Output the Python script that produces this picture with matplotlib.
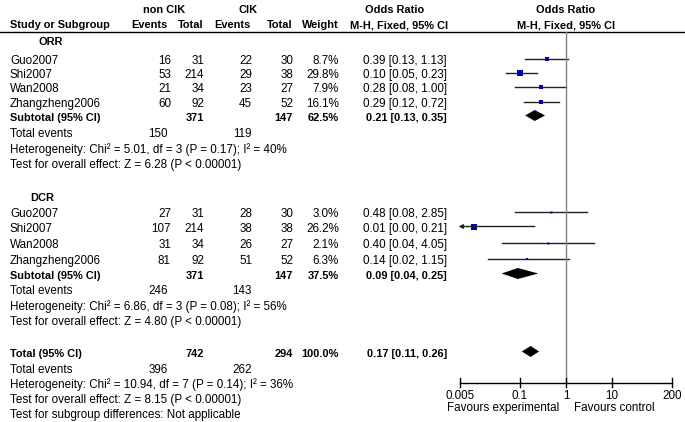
import numpy as np
import matplotlib
matplotlib.use("Agg")
import matplotlib.pyplot as plt
from matplotlib.patches import Polygon

plt.rcParams['font.family'] = ['Liberation Sans', 'DejaVu Sans']

# data
studies = ["Guo2007", "Shi2007", "Wan2008", "Zhangzheng2006"]

orr_e1 = [16, 53, 21, 60]
orr_n1 = [31, 214, 34, 92]
orr_e2 = [22, 29, 23, 45]
orr_n2 = [30, 38, 27, 52]
orr_w = [8.7, 29.8, 7.9, 16.1]
orr_or = [0.39, 0.10, 0.28, 0.29]
orr_lo = [0.13, 0.05, 0.08, 0.12]
orr_hi = [1.13, 0.23, 1.00, 0.72]
orr_sub = [0.21, 0.13, 0.35]
orr_tot = [371, 147, 62.5]
orr_events = [150, 119]
orr_het = "Heterogeneity: Chi² = 5.01, df = 3 (P = 0.17); I² = 40%"
orr_test = "Test for overall effect: Z = 6.28 (P < 0.00001)"

dcr_e1 = [27, 107, 31, 81]
dcr_n1 = [31, 214, 34, 92]
dcr_e2 = [28, 38, 26, 51]
dcr_n2 = [30, 38, 27, 52]
dcr_w = [3.0, 26.2, 2.1, 6.3]
dcr_or = [0.48, 0.01, 0.40, 0.14]
dcr_lo = [0.08, 0.00, 0.04, 0.02]
dcr_hi = [2.85, 0.21, 4.05, 1.15]
dcr_sub = [0.09, 0.04, 0.25]
dcr_tot = [371, 147, 37.5]
dcr_events = [246, 143]
dcr_het = "Heterogeneity: Chi² = 6.86, df = 3 (P = 0.08); I² = 56%"
dcr_test = "Test for overall effect: Z = 4.80 (P < 0.00001)"

all_sub = [0.17, 0.11, 0.26]
all_tot = [742, 294, 100.0]
all_events = [396, 262]
all_het = "Heterogeneity: Chi² = 10.94, df = 7 (P = 0.14); I² = 36%"
all_test = "Test for overall effect: Z = 8.15 (P < 0.00001)"
subgroup_test = "Test for subgroup differences: Not applicable"

ticks = [0.005, 0.1, 1, 10, 200]
tick_labels = ["0.005", "0.1", "1", "10", "200"]

# layout (pixels)
W, H = 685, 422
FS = 8.4
FSB = 7.9
x_e1, x_n1, x_e2, x_n2, x_w, x_or = 171, 204, 252, 293, 339, 447
px_left, px_right = 460, 672   # where 0.005 and 200 sit
plot_left = 440
axis_y = 383
top_line = 32
blue = "#0000b0"
line_c = "#222222"

fig = plt.figure(figsize=(W / 100, H / 100), dpi=100)
ax = fig.add_axes([0, 0, 1, 1])
ax.set_xlim(0, W)
ax.set_ylim(H, 0)
ax.axis("off")

k = (px_right - px_left) / np.log10(ticks[-1] / ticks[0])
xmin = 10 ** (np.log10(ticks[0]) - (px_left - plot_left) / k)
xmax = 10 ** (np.log10(ticks[-1]) + (W - px_right) / k)
fx = fig.add_axes([plot_left / W, 0, (W - plot_left) / W, 1])
fx.set_xscale("log")
fx.set_xlim(xmin, xmax)
fx.set_ylim(H, 0)
fx.axis("off")


def txt(x, y, s, ha="left", bold=False):
    ax.text(x, y, s, ha=ha, va="center", fontsize=FSB if bold else FS,
            fontweight="bold" if bold else "normal", color="black")


# header
txt(164, 10, "non CIK", "center", True)
txt(248, 10, "CIK", "center", True)
txt(395, 10, "Odds Ratio", "center", True)
txt(566, 10, "Odds Ratio", "center", True)
txt(10, 25, "Study or Subgroup", bold=True)
txt(168, 25, "Events", "right", True)
txt(204, 25, "Total", "right", True)
txt(251, 25, "Events", "right", True)
txt(293, 25, "Total", "right", True)
txt(339, 25, "Weight", "right", True)
txt(399, 25, "M-H, Fixed, 95% CI", "center", True)
txt(566, 25, "M-H, Fixed, 95% CI", "center", True)
ax.plot([0, W], [top_line, top_line], color="black", lw=1)


def diamond(y, est, lo, hi):
    h = 5.5
    fx.add_patch(Polygon([(lo, y), (est, y - h), (hi, y), (est, y + h)],
                         closed=True, color="black", lw=0))


def group(label, lx, ylab, ys, e1, n1, e2, n2, w, orv, lo, hi,
          sub, tot, events, het, test, yrest):
    txt(lx, ylab, label, bold=True)
    for i, y in enumerate(ys):
        txt(10, y, studies[i])
        txt(x_e1, y, str(e1[i]), "right")
        txt(x_n1, y, str(n1[i]), "right")
        txt(x_e2, y, str(e2[i]), "right")
        txt(x_n2, y, str(n2[i]), "right")
        txt(x_w, y, f"{w[i]:.1f}%", "right")
        txt(x_or, y, f"{orv[i]:.2f} [{lo[i]:.2f}, {hi[i]:.2f}]", "right")
        ym = y - 2.5
        if lo[i] < ticks[0]:
            fx.annotate("", xy=(ticks[0] * 0.93, ym), xytext=(hi[i], ym),
                        arrowprops=dict(arrowstyle="-|>", color=line_c, lw=1,
                                        mutation_scale=6, shrinkA=0, shrinkB=0))
        else:
            fx.plot([lo[i], hi[i]], [ym, ym], color=line_c, lw=1)
        side = max(2.0, 6.2 * np.sqrt(w[i] / 29.8))
        fx.plot(orv[i], ym, marker="s", ms=side / 1.389, color=blue,
                mec=blue, mew=0)
    y_sub, y_ev, y_het, y_test = yrest
    txt(10, y_sub, "Subtotal (95% CI)", bold=True)
    txt(x_n1, y_sub, str(tot[0]), "right", True)
    txt(x_n2, y_sub, str(tot[1]), "right", True)
    txt(x_w, y_sub, f"{tot[2]:.1f}%", "right", True)
    txt(x_or, y_sub, f"{sub[0]:.2f} [{sub[1]:.2f}, {sub[2]:.2f}]", "right", True)
    diamond(y_sub - 2.5, *sub)
    txt(10, y_ev, "Total events")
    txt(168, y_ev, str(events[0]), "right")
    txt(252, y_ev, str(events[1]), "right")
    txt(10, y_het, het)
    txt(10, y_test, test)


group("ORR", 39, 42, [61, 75, 89, 104], orr_e1, orr_n1, orr_e2, orr_n2,
      orr_w, orr_or, orr_lo, orr_hi, orr_sub, orr_tot, orr_events,
      orr_het, orr_test, [118, 134, 150, 165])
group("DCR", 30, 198, [214, 229, 245, 261], dcr_e1, dcr_n1, dcr_e2, dcr_n2,
      dcr_w, dcr_or, dcr_lo, dcr_hi, dcr_sub, dcr_tot, dcr_events,
      dcr_het, dcr_test, [276, 291, 307, 322])

# overall
y = 354
txt(10, y, "Total (95% CI)", bold=True)
txt(x_n1, y, str(all_tot[0]), "right", True)
txt(x_n2, y, str(all_tot[1]), "right", True)
txt(x_w, y, f"{all_tot[2]:.1f}%", "right", True)
txt(x_or, y, f"{all_sub[0]:.2f} [{all_sub[1]:.2f}, {all_sub[2]:.2f}]", "right", True)
diamond(y - 2.5, *all_sub)
txt(10, 370, "Total events")
txt(168, 370, str(all_events[0]), "right")
txt(252, 370, str(all_events[1]), "right")
txt(10, 385, all_het)
txt(10, 400, all_test)
txt(10, 415, subgroup_test)

# null line and scale
fx.plot([1, 1], [top_line, axis_y], color="#808080", lw=1)
fx.plot([ticks[0], ticks[-1]], [axis_y, axis_y], color="black", lw=1)
for t, lab in zip(ticks, tick_labels):
    fx.plot([t, t], [axis_y - 5, axis_y + 4], color="black", lw=1)
    fx.text(t, 396, lab, ha="center", va="center", fontsize=FS)
fx.text(0.7, 408, "Favours experimental", ha="right", va="center", fontsize=FS)
fx.text(1.5, 408, "Favours control", ha="left", va="center", fontsize=FS)

fig.savefig("out.png", dpi=100)
